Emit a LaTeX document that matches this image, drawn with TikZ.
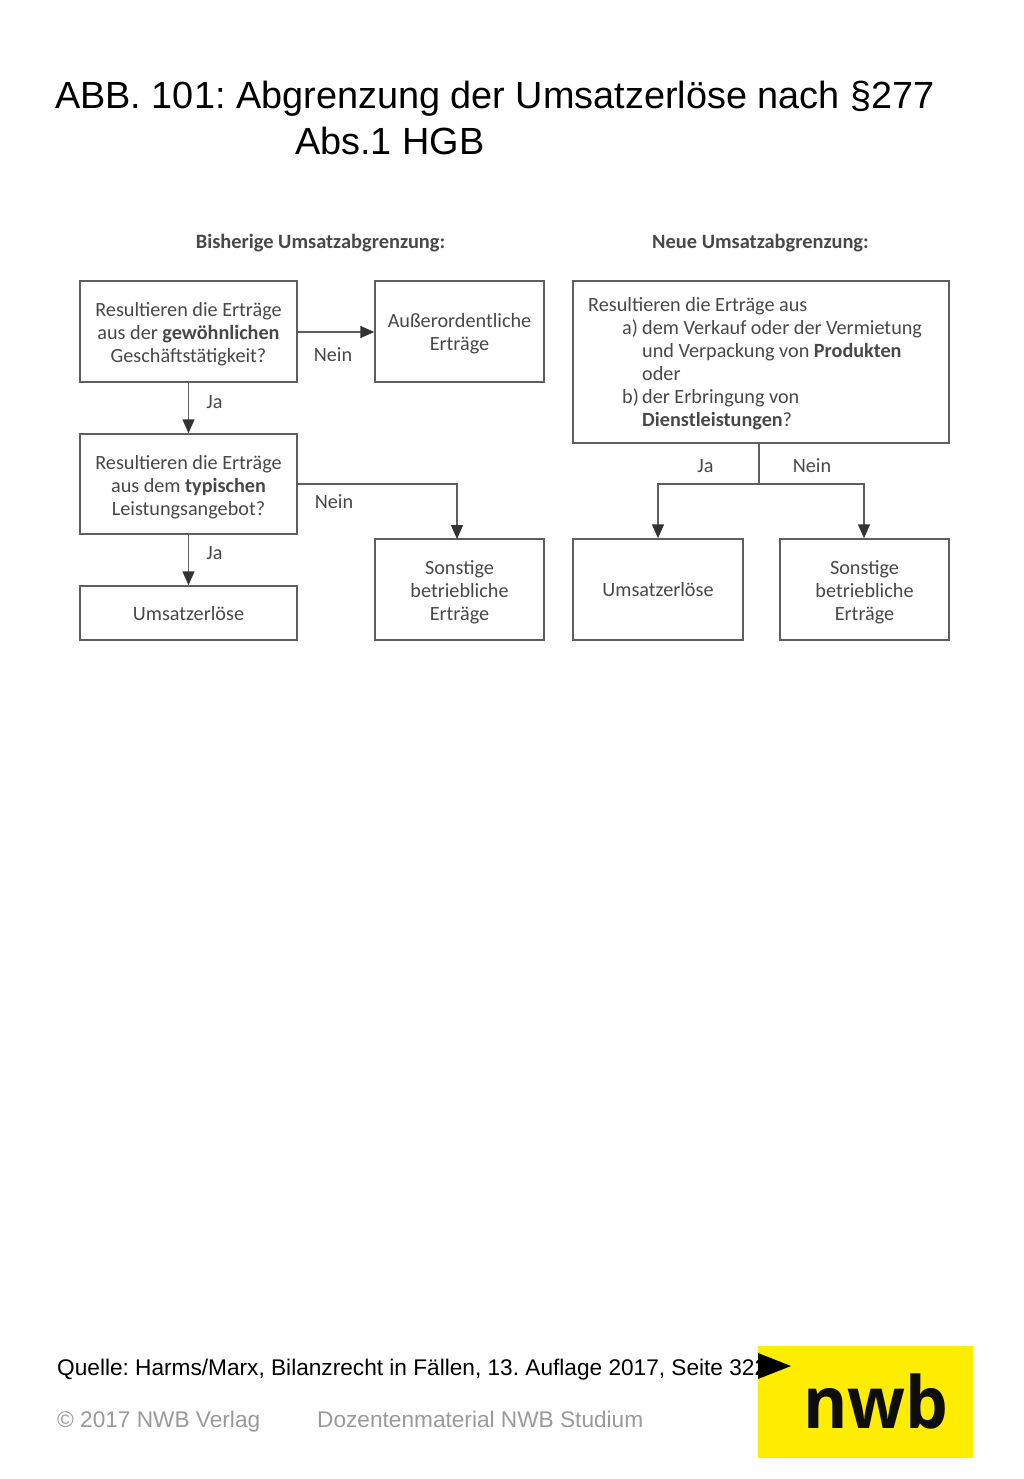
\documentclass[tikz,border=0pt]{standalone}
\usepackage{graphicx}
\usepackage{fontspec}
\setmainfont{Liberation Sans}
\newfontfamily\diagfont{Carlito}
\newfontfamily\logofont{Open Sans}
\usetikzlibrary{arrows.meta,positioning}
\frenchspacing
\definecolor{inkgrey}{HTML}{484848}
\definecolor{linegrey}{HTML}{5E5E5E}
\definecolor{footgrey}{HTML}{9A9A9A}
\definecolor{nwbyellow}{HTML}{FFED00}
\newcommand\dropped[2]{\smash{\raisebox{-#1}{\begin{tabular}{@{}c@{}}#2\end{tabular}}}}
\tikzset{
  x=1pt,y=-1pt,
  fbox/.style={draw=linegrey,line width=1.5pt,fill=white,inner sep=0pt,align=center,text=inkgrey,
    font=\diagfont\fontsize{20.2}{23}\selectfont},
  lbl/.style={inner sep=0pt,text=inkgrey,font=\diagfont\fontsize{20.2}{23}\selectfont},
  head/.style={inner sep=0pt,text=inkgrey,font=\diagfont\bfseries\fontsize{20.4}{23}\selectfont},
  conn/.style={draw=linegrey,line width=1.5pt},
  arr/.style={conn,-{Triangle[length=14pt,width=12pt,color=black!80]}},
  title/.style={inner sep=0pt,anchor=base west,font=\fontsize{37.85}{46}\selectfont},
  foot/.style={inner sep=0pt,anchor=base west,font=\fontsize{22.65}{28}\selectfont},
}
\begin{document}
\begin{tikzpicture}
\useasboundingbox (0,0) rectangle (1024,1479);
\fill[white] (0,0) rectangle (1024,1479);
\node[title] (t1) at (55,109) {ABB. 101: Abgrenzung der Umsatzerlöse nach §277};
\node[title] (t2) at (295,155) {Abs.1 HGB};

\node[head] (h1) at (320.5,243) {Bisherige Umsatzabgrenzung:};
\node[head] (h2) at (760.5,243) {Neue Umsatzabgrenzung:};

\node[fbox,minimum width=217pt,minimum height=101pt] (A) at (188.5,331.5) {\dropped{9pt}{Resultieren die Erträge\\aus der \textbf{gewöhnlichen}\\Geschäftstätigkeit?}};
\node[fbox,minimum width=169pt,minimum height=101pt] (B) at (459.5,331.5) {\dropped{8pt}{Außerordentliche\\Erträge}};
\node[fbox,minimum width=217pt,minimum height=100pt] (C) at (188.5,484) {\dropped{9pt}{Resultieren die Erträge\\aus dem \textbf{typischen}\\Leistungsangebot?}};
\node[fbox,minimum width=217pt,minimum height=54pt] (D) at (188.5,613) {\dropped{8pt}{Umsatzerlöse}};
\node[fbox,minimum width=169pt,minimum height=101pt] (E) at (459.5,589.5) {\dropped{9pt}{Sonstige\\betriebliche\\Erträge}};
\node[fbox,minimum width=376pt,minimum height=162pt] (F) at (761,362) {};
\node[fbox,minimum width=170pt,minimum height=101pt] (G) at (658,589.5) {\dropped{8pt}{Umsatzerlöse}};
\node[fbox,minimum width=169pt,minimum height=101pt] (H) at (864.5,589.5) {\dropped{9pt}{Sonstige\\betriebliche\\Erträge}};

\node[lbl,anchor=base west] (f1) at (588,311) {Resultieren die Erträge aus};
\node[lbl,anchor=base west] (f2) at (622,334) {a)};
\node[lbl,anchor=base west] (f3) at (642,334) {dem Verkauf oder der Vermietung};
\node[lbl,anchor=base west] (f4) at (642,357) {und Verpackung von \textbf{Produkten}};
\node[lbl,anchor=base west] (f5) at (642,380) {oder};
\node[lbl,anchor=base west] (f6) at (622,403) {b)};
\node[lbl,anchor=base west] (f7) at (642,403) {der Erbringung von};
\node[lbl,anchor=base west] (f8) at (642,426) {\textbf{Dienstleistungen}?};

\coordinate (j) at (759,484);
\coordinate (etop) at (457,539);
\draw[arr] ([yshift=-0.5pt]A.east) -- ([yshift=-0.5pt]B.west);
\draw[arr] (A.south) -- (C.north);
\draw[arr] (C.south) -- (D.north);
\draw[arr] (C.east) -| (etop);
\draw[conn] (F.south -| j) -- (j);
\draw[arr] (j) -| (G.north);
\draw[arr] (j) -| ([xshift=-0.5pt]H.north);

\node[lbl] (n1) at (333,355) {Nein};
\node[lbl] (y1) at (214.5,402) {Ja};
\node[lbl] (n2) at (334,502) {Nein};
\node[lbl] (y2) at (214.5,553) {Ja};
\node[lbl] (y3) at (705.5,466) {Ja};
\node[lbl] (n3) at (812,466) {Nein};

\node[foot] (q) at (57,1375.5) {Quelle: Harms/Marx, Bilanzrecht in Fällen, 13. Auflage 2017, Seite 322};
\node[foot,text=footgrey] (c) at (57,1427.5) {© 2017 NWB Verlag};
\node[foot,text=footgrey] (d) at (317,1427.5) {Dozentenmaterial NWB Studium};

\fill[nwbyellow] (758,1346) rectangle (973,1458);
\fill[black] (758,1353) -- (791,1366) -- (758,1379) -- cycle;
\node[inner sep=0pt,anchor=base,font=\logofont\bfseries\fontsize{72}{72}\selectfont,text=black!95] (logo) at (876,1428) {\scalebox{0.94}[1]{nwb}};
\end{tikzpicture}
\end{document}
